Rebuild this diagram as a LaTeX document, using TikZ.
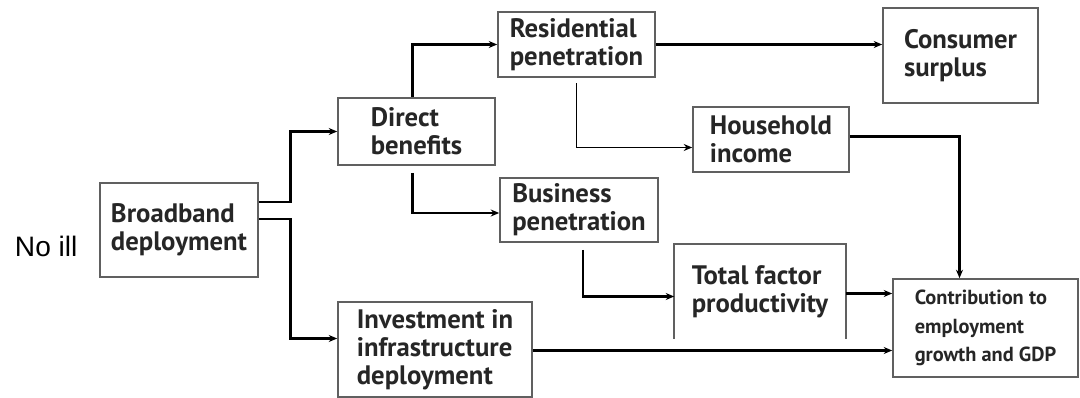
\documentclass[tikz,border=0pt]{standalone}
\usepackage{fontspec}
\setmainfont{Liberation Sans}
\newfontfamily\boxfont{PT Sans}
\usetikzlibrary{calc, arrows.meta, positioning}

\tikzset{
  stage/.style={draw=gray!75!black, line width=1.2pt, rectangle, inner sep=2pt,
    align=left, text=black!85, font=\boxfont\bfseries\fontsize{19}{20}\selectfont},
  flow/.style={->, line width=2.1pt, black},
  thinflow/.style={->, line width=1.1pt, black},
  >={Stealth[length=6pt, width=5pt]}
}

\begin{document}
\begin{tikzpicture}[x=0.025cm, y=-0.025cm]
        \useasboundingbox (0,0) rectangle (1080,398);

        \node[font=\fontsize{20}{24}\selectfont, anchor=west] (noill) at (10,246) {No ill};

        \node[stage, minimum width=158*0.025cm, minimum height=94*0.025cm] (Broadband) at (179,230) {Broadband\\deployment};
        \node[stage, minimum width=157*0.025cm, minimum height=67*0.025cm] (Direct) at (416.5,131.5) {Direct\\benefits};
        \node[stage, minimum width=157*0.025cm, minimum height=65*0.025cm] (Residential) at (576.5,44.5) {Residential\\penetration};
        \node[stage, minimum width=155*0.025cm, minimum height=95*0.025cm] (Consumer) at (960.5,55.5) {Consumer\\surplus};
        \node[stage, minimum width=156*0.025cm, minimum height=65*0.025cm] (Household) at (771,139.5) {Household\\income};
        \node[stage, minimum width=158*0.025cm, minimum height=64*0.025cm] (Business) at (579,210) {Business\\penetration};
        \node[stage, draw=none, minimum width=170*0.025cm, minimum height=93*0.025cm] (TFP) at (760,291.5) {Total factor\\productivity};
        \node[stage, minimum width=185*0.025cm, minimum height=98*0.025cm, font=\boxfont\bfseries\fontsize{14.5}{20}\selectfont] (Contribution) at (985.5,328) {Contribution to\\employment\\growth and GDP};
        \node[stage, minimum width=194*0.025cm, minimum height=95*0.025cm] (Investment) at (435,349.5) {Investment in\\infrastructure\\deployment};

        % open bottom on the productivity box
        \draw[draw=gray!75!black, line width=1.2pt] (TFP.south west) |- (TFP.north east) -- (TFP.south east);

        \draw[flow] ($(Broadband.east)+(0,-28)$) -- ++(32,0) |- (Direct.west);
        \draw[flow] ($(Broadband.east)+(0,-11)$) -- ++(32,0) |- ($(Investment.west)+(0,-11)$);
        \draw[flow] ($(Direct.north)+(-4,0)$) |- (Residential.west);
        \draw[flow, shorten <=5pt] ($(Direct.south)+(-4,0)$) |- ($(Business.west)+(0,3)$);
        \draw[flow] (Residential.east) -- (Residential.east -| Consumer.west);
        \draw[thinflow, shorten <=4pt] (Residential.south) |- ($(Household.west)+(0,8)$);
        \draw[flow] ($(Household.east)+(0,-3)$) -| ($(Contribution.north)+(-26,0)$);
        \draw[flow, shorten <=5pt] ($(Business.south)+(4,0)$) |- ($(TFP.west)+(0,5)$);
        \draw[flow] ($(TFP.east)+(0,2)$) -- ($(TFP.east -| Contribution.west)+(0,2)$);
        \draw[flow, line width=1.6pt] ($(Investment.east)+(0,1)$) -- ($(Investment.east -| Contribution.west)+(0,1)$);
    \end{tikzpicture}
\end{document}
